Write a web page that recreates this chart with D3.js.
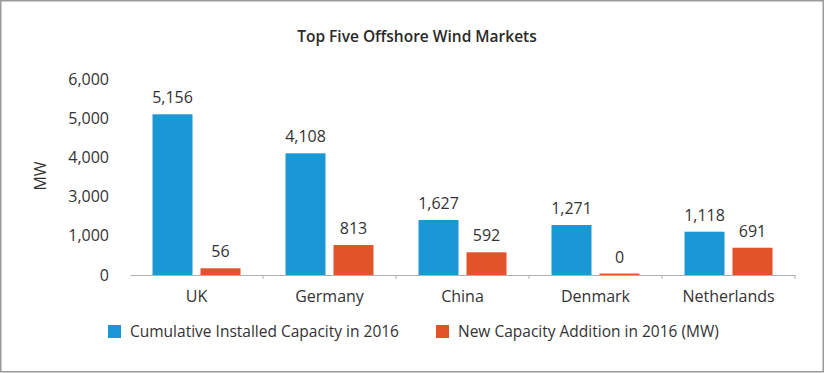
<!DOCTYPE html>
<html>
<head>
<meta charset="utf-8">
<script src="https://cdn.jsdelivr.net/npm/d3@7/dist/d3.min.js"></script>
<style>
  body { margin: 0; background: #fff; }
  svg text { font-family: "Open Sans", "Noto Sans", sans-serif; fill: #333; }
</style>
</head>
<body>
<div id="chart"></div>
<script>
// Chart data
const categories = ["UK", "Germany", "China", "Denmark", "Netherlands"];
const seriesNames = ["Cumulative Installed Capacity in 2016", "New Capacity Addition in 2016 (MW)"];
// bar heights as drawn (MW on the 0..6,000 axis)
const cumulative = [4920, 3725, 1685, 1530, 1325];
const added = [205, 918, 695, 45, 835];
// figures printed above the bars
const cumulativeLabels = ["5,156", "4,108", "1,627", "1,271", "1,118"];
const addedLabels = ["56", "813", "592", "0", "691"];
// y axis labels as printed (evenly spaced)
const tickLabels = ["0", "1,000", "3,000", "4,000", "5,000", "6,000"];

const colors = ["#1a98d5", "#e2532a"];

const width = 825, height = 373;
const margin = { top: 79, right: 30, bottom: 98, left: 130 };
const plotBottom = height - margin.bottom; // 275

const svg = d3.select("#chart")
    .append("svg")
    .attr("width", width)
    .attr("height", height);

// frame
svg.append("rect")
    .attr("x", 0.75).attr("y", 0.75)
    .attr("width", 822.5).attr("height", 371)
    .attr("fill", "#fff")
    .attr("stroke", "#9a9a9a")
    .attr("stroke-width", 1.5);

// title
svg.append("text")
    .attr("x", 417).attr("y", 42)
    .attr("text-anchor", "middle")
    .style("font-size", "15.5px")
    .style("font-weight", 600)
    .style("fill", "#2a2a2a")
    .text("Top Five Offshore Wind Markets");

const x = d3.scaleBand()
    .domain(categories)
    .range([margin.left, width - margin.right]);

const groupW = 88;
const xInner = d3.scaleBand()
    .domain([0, 1])
    .range([0, groupW])
    .paddingInner(1 / 6);

const y = d3.scaleLinear()
    .domain([0, 6000])
    .range([plotBottom, margin.top]);

// y axis labels
const yLabels = d3.scalePoint()
    .domain(tickLabels)
    .range([plotBottom, margin.top]);

const yAxis = svg.append("g")
    .attr("transform", `translate(${margin.left - 21},0)`)
    .call(d3.axisLeft(yLabels).tickSize(0).tickPadding(0));
yAxis.select(".domain").remove();
yAxis.selectAll("text")
    .style("font-size", "16px")
    .style("font-family", "'Open Sans', sans-serif")
    .attr("fill", "#333");

// y title
svg.append("text")
    .attr("transform", `translate(46,${(plotBottom + margin.top) / 2 - 1}) rotate(-90)`)
    .attr("text-anchor", "middle")
    .style("font-size", "16px")
    .text("MW");

// x axis
const xAxis = svg.append("g")
    .attr("transform", `translate(0,${plotBottom})`)
    .call(d3.axisBottom(x).tickSize(0).tickPadding(16));
xAxis.select(".domain").attr("stroke", "#b0b0b0").attr("stroke-width", 1.2);
xAxis.selectAll("text")
    .style("font-size", "16px")
    .style("font-family", "'Open Sans', sans-serif")
    .attr("fill", "#333");

// small separators between categories
svg.append("g")
    .selectAll("line")
    .data(categories.slice(1).concat([null]))
    .enter().append("line")
    .attr("x1", d => d ? x(d) : x.range()[1])
    .attr("x2", d => d ? x(d) : x.range()[1])
    .attr("y1", plotBottom)
    .attr("y2", plotBottom + 4)
    .attr("stroke", "#b0b0b0");

// bars
const rows = categories.map((c, i) => ({
    cat: c,
    vals: [cumulative[i], added[i]],
    labels: [cumulativeLabels[i], addedLabels[i]]
}));

const groups = svg.append("g")
    .selectAll("g")
    .data(rows)
    .enter().append("g")
    .attr("transform", d => `translate(${x(d.cat) + (x.bandwidth() - groupW) / 2},0)`);

groups.selectAll("rect")
    .data(d => d.vals.map((v, k) => ({ v, k })))
    .enter().append("rect")
    .attr("x", d => xInner(d.k))
    .attr("width", xInner.bandwidth())
    .attr("y", d => y(d.v))
    .attr("height", d => plotBottom - y(d.v))
    .attr("fill", d => colors[d.k]);

groups.selectAll("text.val")
    .data(d => d.vals.map((v, k) => ({ v, k, label: d.labels[k] })))
    .enter().append("text")
    .attr("class", "val")
    .attr("x", d => xInner(d.k) + xInner.bandwidth() / 2)
    .attr("y", d => y(d.v) - 11)
    .attr("text-anchor", "middle")
    .style("font-size", "16px")
    .text(d => d.label);

// legend
const legendPos = [108, 436];
const legend = svg.append("g")
    .selectAll("g")
    .data(seriesNames)
    .enter().append("g")
    .attr("transform", (d, i) => `translate(${legendPos[i]},325)`);

legend.append("rect")
    .attr("width", 13).attr("height", 13)
    .attr("fill", (d, i) => colors[i]);

legend.append("text")
    .attr("x", 22).attr("y", 12)
    .style("font-size", "15.5px")
    .text(d => d);
</script>
</body>
</html>
